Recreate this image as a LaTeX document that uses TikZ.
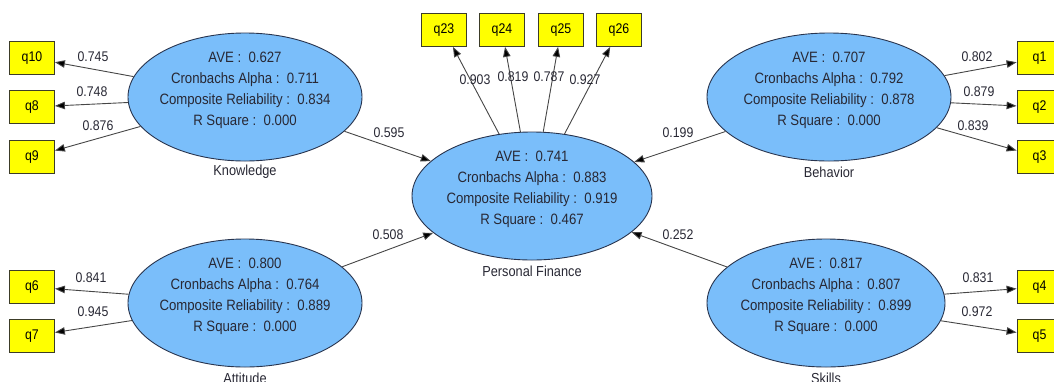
\documentclass[tikz,border=0pt]{standalone}
\usepackage{fontspec}
\setmainfont{Liberation Sans}[FakeStretch=0.88]
\usetikzlibrary{shapes.geometric,arrows.meta}
\definecolor{lvfill}{RGB}{122,190,250}
\definecolor{lvline}{RGB}{40,52,78}
\definecolor{mvfill}{RGB}{255,255,0}
\definecolor{mvline}{RGB}{60,60,40}
\definecolor{txt}{RGB}{40,40,52}
\definecolor{arr}{RGB}{70,70,70}
\tikzset{
  lv/.style={ellipse, draw=lvline, fill=lvfill, line width=0.9pt, inner sep=0pt,
             minimum width=#1, minimum height=128pt},
  lv/.default=236pt,
  stats/.style={align=center, text=txt, font=\fontsize{15}{21}\selectfont, inner sep=0pt},
  lvname/.style={text=txt, font=\fontsize{14.5}{17}\selectfont, inner sep=0pt},
  mv/.style={rectangle, draw=mvline, fill=mvfill, line width=0.8pt,
             minimum width=45pt, minimum height=33pt, inner sep=0pt,
             text=black, font=\fontsize{14}{16}\selectfont},
  path/.style={draw=arr, line width=0.9pt, -{Triangle[length=10pt,width=7.5pt,fill=black]}},
  coef/.style={text=txt, font=\fontsize{14}{16}\selectfont, inner sep=0pt},
}
\begin{document}
\begin{tikzpicture}[x=1pt,y=-1pt]
\useasboundingbox (0,0) rectangle (1054,381);

% latent variables
\node[lv=234pt] (k)  at (245,97)  {};
\node[lv=240pt] (pf) at (532,196) {};
\node[lv=244pt] (b)  at (829,97)  {};
\node[lv=234pt] (a)  at (245,303) {};
\node[lv=238pt] (s)  at (826,303) {};

\node[stats] (kt)  at (245,90.5)  {AVE :\ \ 0.627\\Cronbachs Alpha :\ \ 0.711\\Composite Reliability :\ \ 0.834\\R Square :\ \ 0.000};
\node[stats] (pft) at (532,189.5) {AVE :\ \ 0.741\\Cronbachs Alpha :\ \ 0.883\\Composite Reliability :\ \ 0.919\\R Square :\ \ 0.467};
\node[stats] (bt)  at (829,90.5)  {AVE :\ \ 0.707\\Cronbachs Alpha :\ \ 0.792\\Composite Reliability :\ \ 0.878\\R Square :\ \ 0.000};
\node[stats] (at)  at (245,296.5) {AVE :\ \ 0.800\\Cronbachs Alpha :\ \ 0.764\\Composite Reliability :\ \ 0.889\\R Square :\ \ 0.000};
\node[stats] (st)  at (826,296.5) {AVE :\ \ 0.817\\Cronbachs Alpha :\ \ 0.807\\Composite Reliability :\ \ 0.899\\R Square :\ \ 0.000};

\node[lvname] (kn)  at (245,172) {Knowledge};
\node[lvname] (pfn) at (532,271) {Personal Finance};
\node[lvname] (bn)  at (829,172) {Behavior};
\node[lvname] (an)  at (245,378) {Attitude};
\node[lvname] (sn)  at (826,378) {Skills};

% indicators
\node[mv] (q10) at (32,58)  {q10};
\node[mv] (q8)  at (32,107) {q8};
\node[mv] (q9)  at (32,157) {q9};
\node[mv] (q6)  at (32,287) {q6};
\node[mv] (q7)  at (32,336) {q7};
\node[mv] (q1)  at (1039.5,58)  {q1};
\node[mv] (q2)  at (1039.5,107) {q2};
\node[mv] (q3)  at (1039.5,157) {q3};
\node[mv] (q4)  at (1039.5,287) {q4};
\node[mv] (q5)  at (1039.5,336) {q5};
\node[mv] (q23) at (444,30) {q23};
\node[mv] (q24) at (502,30) {q24};
\node[mv] (q25) at (561,30) {q25};
\node[mv] (q26) at (619,30) {q26};

% structural paths
\draw[path] (k) -- (pf);
\draw[path] (a) -- (pf);
\draw[path] (b) -- (pf);
\draw[path] (s) -- (pf);
\node[coef] (c1) at (389,133) {0.595};
\node[coef] (c2) at (388,235) {0.508};
\node[coef] (c3) at (678,133) {0.199};
\node[coef] (c4) at (678,235) {0.252};

% outer loadings
\draw[path] (k) -- (q10);
\draw[path] (k) -- (q8);
\draw[path] (k) -- (q9);
\draw[path] (a) -- (q6);
\draw[path] (a) -- (q7);
\draw[path] (b) -- (q1);
\draw[path] (b) -- (q2);
\draw[path] (b) -- (q3);
\draw[path] (s) -- (q4);
\draw[path] (s) -- (q5);
\draw[path] (pf) -- (q23);
\draw[path] (pf) -- (q24);
\draw[path] (pf) -- (q25);
\draw[path] (pf) -- (q26);

\node[coef] (l10) at (93,57)  {0.745};
\node[coef] (l8)  at (92,92)  {0.748};
\node[coef] (l9)  at (98,126) {0.876};
\node[coef] (l6)  at (91,278) {0.841};
\node[coef] (l7)  at (93,312) {0.945};
\node[coef] (l1)  at (977,57)  {0.802};
\node[coef] (l2)  at (979,92)  {0.879};
\node[coef] (l3)  at (973,126) {0.839};
\node[coef] (l4)  at (978,278) {0.831};
\node[coef] (l5)  at (977,312) {0.972};
\node[coef] (l23) at (475,80) {0.903};
\node[coef] (l24) at (513,77) {0.819};
\node[coef] (l25) at (549,77) {0.787};
\node[coef] (l26) at (585,80) {0.927};
\end{tikzpicture}
\end{document}
